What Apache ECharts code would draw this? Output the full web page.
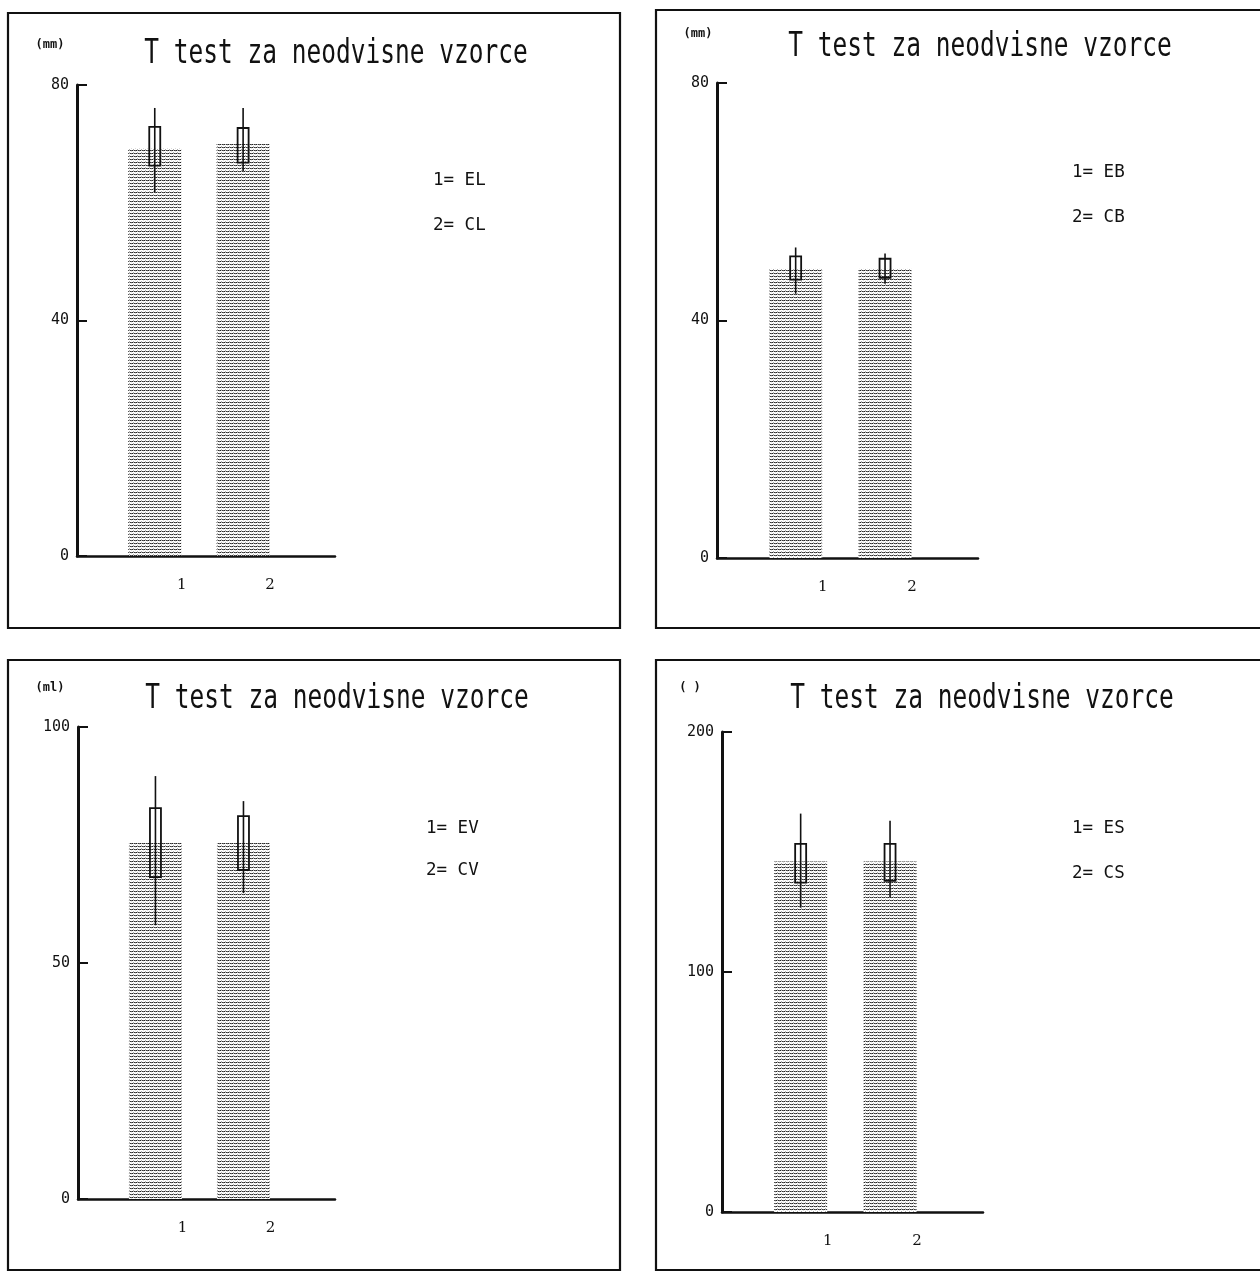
<!DOCTYPE html>
<html>
<head>
<meta charset="utf-8">
<script src="https://cdn.jsdelivr.net/npm/echarts@6/dist/echarts.min.js"></script>
<style>
html,body{margin:0;padding:0;background:#fff;}
#chart{width:1260px;height:1272px;}
</style>
</head>
<body>
<div id="chart"></div>
<script>
// ---- data ----
const categories = [1, 2];
const chartTitle = 'T test za neodvisne vzorce';
const unitLabels = ['(mm)', '(mm)', '(ml)', '( )'];

const legendL = ['1= EL', '2= CL'];
const meanL = [69.3, 70.0];
const boxLowL = [66.3, 66.8];
const boxHighL = [72.9, 72.7];
const whiskLowL = [61.8, 65.4];
const whiskHighL = [76.1, 76.1];
const yTicksL = [0, 40, 80];

const legendB = ['1= EB', '2= CB'];
const meanB = [48.7, 48.7];
const boxLowB = [46.9, 47.2];
const boxHighB = [50.8, 50.4];
const whiskLowB = [44.5, 46.2];
const whiskHighB = [52.3, 51.3];
const yTicksB = [0, 40, 80];

const legendV = ['1= EV', '2= CV'];
const meanV = [75.4, 75.4];
const boxLowV = [68.2, 69.7];
const boxHighV = [82.8, 81.1];
const whiskLowV = [58.0, 64.8];
const whiskHighV = [89.6, 84.3];
const yTicksV = [0, 50, 100];

const legendS = ['1= ES', '2= CS'];
const meanS = [146, 146];
const boxLowS = [137.2, 138];
const boxHighS = [153.4, 153.4];
const whiskLowS = [126.8, 131];
const whiskHighS = [166, 163];
const yTicksS = [0, 100, 200];

// ---- layout ----
const panels = [
  {mean: meanL, bl: boxLowL, bh: boxHighL, wl: whiskLowL, wh: whiskHighL, ticks: yTicksL, legend: legendL, unit: unitLabels[0],
   grid: {left: 77, top: 85, width: 258, height: 471}, frame: [8, 13, 612, 615],
   title: [336, 54], unitPos: [50, 45], legendPos: [433, 180, 225]},
  {mean: meanB, bl: boxLowB, bh: boxHighB, wl: whiskLowB, wh: whiskHighB, ticks: yTicksB, legend: legendB, unit: unitLabels[1],
   grid: {left: 717, top: 83, width: 261, height: 475}, frame: [656, 10, 640, 618],
   title: [980, 47], unitPos: [698, 34], legendPos: [1072, 172, 217]},
  {mean: meanV, bl: boxLowV, bh: boxHighV, wl: whiskLowV, wh: whiskHighV, ticks: yTicksV, legend: legendV, unit: unitLabels[2],
   grid: {left: 78, top: 727, width: 257, height: 472}, frame: [8, 660, 612, 610],
   title: [337, 699], unitPos: [50, 688], legendPos: [426, 828, 870]},
  {mean: meanS, bl: boxLowS, bh: boxHighS, wl: whiskLowS, wh: whiskHighS, ticks: yTicksS, legend: legendS, unit: unitLabels[3],
   grid: {left: 722, top: 732, width: 261, height: 480}, frame: [656, 660, 640, 610],
   title: [982, 699], unitPos: [690, 688], legendPos: [1072, 828, 873]}
];

// stipple pattern for the bars
function makePattern() {
  const c = document.createElement('canvas');
  c.width = 4; c.height = 3;
  const ctx = c.getContext('2d');
  ctx.fillStyle = '#fff'; ctx.fillRect(0, 0, 4, 3);
  const row = ['#222', '#bbb', '#333', '#666'];
  row.forEach((col, i) => { ctx.fillStyle = col; ctx.fillRect(i, 0, 1, 1); });
  ctx.fillStyle = '#aaa'; ctx.fillRect(1, 2, 1, 1);
  ctx.fillStyle = '#ddd'; ctx.fillRect(3, 1, 1, 1);
  return c;
}
const pattern = {image: makePattern(), repeat: 'repeat'};

const ink = '#111';
const grids = [], xAxes = [], yAxes = [], series = [], graphics = [];

panels.forEach((p, i) => {
  grids.push(Object.assign({containLabel: false}, p.grid));
  xAxes.push({
    type: 'value', gridIndex: i, min: 0.12, max: 3.04,
    axisLine: {show: true, onZero: false, lineStyle: {color: ink, width: 2.5}},
    axisTick: {show: false},
    splitLine: {show: false},
    axisLabel: {
      customValues: categories, formatter: v => String(v),
      fontFamily: 'DejaVu Serif', fontSize: 15, color: ink, margin: 22,
      padding: [0, 0, 0, 54]
    }
  });
  yAxes.push({
    type: 'value', gridIndex: i, min: p.ticks[0], max: p.ticks[p.ticks.length - 1],
    interval: p.ticks[1] - p.ticks[0],
    axisLine: {show: true, lineStyle: {color: ink, width: 3}},
    axisTick: {show: true, inside: true, length: 10, lineStyle: {color: ink, width: 2}},
    splitLine: {show: false},
    axisLabel: {fontFamily: 'DejaVu Sans Mono', fontSize: 15, color: ink, margin: 8}
  });
  series.push({
    type: 'bar', xAxisIndex: i, yAxisIndex: i, barWidth: 53,
    itemStyle: {color: pattern},
    data: categories.map((c, k) => [c, p.mean[k]]),
    silent: true, z: 2
  });
  series.push({
    type: 'custom', xAxisIndex: i, yAxisIndex: i, z: 5, silent: true,
    data: categories.map((c, k) => [c, p.bl[k], p.bh[k], p.wl[k], p.wh[k]]),
    renderItem: function (params, api) {
      const x = api.value(0);
      const b0 = api.coord([x, api.value(1)]);
      const b1 = api.coord([x, api.value(2)]);
      const w0 = api.coord([x, api.value(3)]);
      const w1 = api.coord([x, api.value(4)]);
      const hw = 5.5;
      return {
        type: 'group',
        children: [
          {type: 'line', shape: {x1: w0[0], y1: w0[1], x2: w1[0], y2: w1[1]},
           style: {stroke: ink, lineWidth: 1.6}},
          {type: 'rect', shape: {x: b1[0] - hw, y: b1[1], width: hw * 2, height: b0[1] - b1[1]},
           style: {stroke: ink, lineWidth: 1.8, fill: 'none'}}
        ]
      };
    }
  });
  const f = p.frame;
  graphics.push({type: 'rect', shape: {x: f[0], y: f[1], width: f[2], height: f[3]},
    style: {stroke: ink, lineWidth: 2.2, fill: 'none'}, z: 1, silent: true});
  graphics.push({type: 'text', x: p.title[0], y: p.title[1], scaleY: 1.4,
    style: {text: chartTitle, font: '24.5px "DejaVu Sans Mono"', fill: ink, align: 'center', verticalAlign: 'middle'}});
  graphics.push({type: 'text', x: p.unitPos[0], y: p.unitPos[1],
    style: {text: p.unit, font: 'bold 12px "DejaVu Sans Mono"', fill: ink, align: 'center', verticalAlign: 'middle'}});
  graphics.push({type: 'text', x: p.legendPos[0], y: p.legendPos[1],
    style: {text: p.legend[0], font: '17.5px "DejaVu Sans Mono"', fill: ink, align: 'left', verticalAlign: 'middle'}});
  graphics.push({type: 'text', x: p.legendPos[0], y: p.legendPos[2],
    style: {text: p.legend[1], font: '17.5px "DejaVu Sans Mono"', fill: ink, align: 'left', verticalAlign: 'middle'}});
});

const chart = echarts.init(document.getElementById('chart'), null, {renderer: 'canvas'});
chart.setOption({
  backgroundColor: '#fff',
  animation: false,
  grid: grids,
  xAxis: xAxes,
  yAxis: yAxes,
  series: series,
  graphic: graphics
});
</script>
</body>
</html>
